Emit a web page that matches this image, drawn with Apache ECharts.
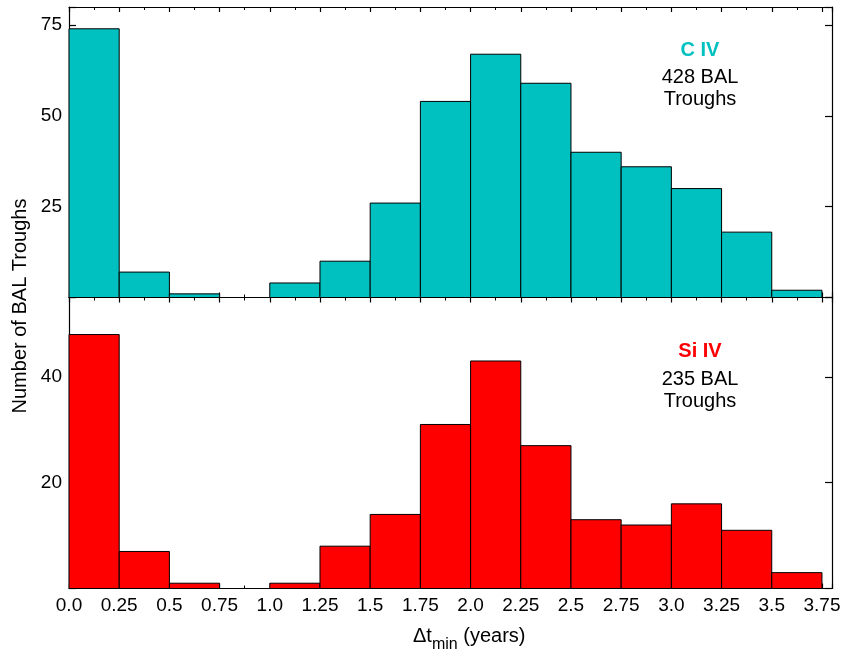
<!DOCTYPE html>
<html>
<head>
<meta charset="utf-8">
<script src="https://cdn.jsdelivr.net/npm/echarts@6/dist/echarts.min.js"></script>
<style>html,body{margin:0;padding:0;background:#fff}#c{width:846px;height:656px}</style>
</head>
<body>
<div id="c"></div>
<script>
// Bin left edges (years), bin width 0.25
const binStarts = [0, 0.25, 0.5, 0.75, 1.0, 1.25, 1.5, 1.75, 2.0, 2.25, 2.5, 2.75, 3.0, 3.25, 3.5];
const binWidth = 0.25;
// Counts per bin
const civCounts  = [74, 7, 1, 0, 4, 10, 26, 54, 67, 59, 40, 36, 30, 18, 2];
const siivCounts = [48, 7, 1, 0, 1, 8, 14, 31, 43, 27, 13, 12, 16, 11, 3];
// Tick labels
const xTickLabels = ['0.0','0.25','0.5','0.75','1.0','1.25','1.5','1.75','2.0','2.25','2.5','2.75','3.0','3.25','3.5','3.75'];
const topYTicks = [25, 50, 75];
const botYTicks = [20, 40];

const FONT = '"Liberation Sans", Arial, Helvetica, sans-serif';
const FS = 19;

function toData(counts) {
  return binStarts.map((s, i) => [s, s + binWidth, counts[i]]);
}
function renderBar(color) {
  return function (params, api) {
    const x0 = api.value(0), x1 = api.value(1), y = api.value(2);
    if (!y) return null;
    const p0 = api.coord([x0, 0]);
    const p1 = api.coord([x1, y]);
    return {
      type: 'rect',
      shape: { x: p0[0], y: p1[1], width: p1[0] - p0[0], height: p0[1] - p1[1] },
      style: { fill: color, stroke: '#000', lineWidth: 1 }
    };
  };
}
function xLabel(v) {
  const i = Math.round(v / 0.25);
  if (Math.abs(v - i * 0.25) > 1e-6 || i >= xTickLabels.length) return '';
  return xTickLabels[i];
}

const axisLine = { show: true, onZero: false, lineStyle: { color: '#000', width: 1.2 } };
function xAxisDef(grid, pos, showLabel) {
  return {
    type: 'value', gridIndex: grid, position: pos, min: 0, max: 3.8, interval: 0.25,
    axisLine: axisLine,
    axisTick: { show: true, inside: true, length: 5, lineStyle: { color: '#000', width: 1.2 } },
    minorTick: { show: true, splitNumber: 2, length: 3, lineStyle: { color: '#000', width: 1 } },
    splitLine: { show: false },
    axisLabel: { show: showLabel, formatter: xLabel, color: '#000', fontFamily: FONT, fontSize: FS, margin: 8 },
  };
}
function yAxisDef(grid, pos, max, interval, ticks, showLabel) {
  return {
    type: 'value', gridIndex: grid, position: pos, min: 0, max: max, interval: interval,
    axisLine: axisLine,
    axisTick: { show: true, inside: true, length: 7, lineStyle: { color: '#000', width: 1.2 } },
    splitLine: { show: false },
    axisLabel: {
      show: showLabel, color: '#000', fontFamily: FONT, fontSize: FS, margin: 7,
      formatter: v => ticks.indexOf(v) >= 0 ? String(v) : ''
    }
  };
}

const chart = echarts.init(document.getElementById('c'), null, { renderer: 'canvas' });
chart.setOption({
  animation: false,
  backgroundColor: '#fff',
  grid: [
    { left: 69, right: 14, top: 7, height: 290.5 },
    { left: 69, right: 14, top: 297.5, height: 291 }
  ],
  xAxis: [
    xAxisDef(0, 'bottom', false),
    xAxisDef(0, 'top', false),
    xAxisDef(1, 'bottom', true),
    xAxisDef(1, 'top', false)
  ],
  yAxis: [
    yAxisDef(0, 'left', 80, 25, topYTicks, true),
    yAxisDef(0, 'right', 80, 25, topYTicks, false),
    yAxisDef(1, 'left', 55, 20, botYTicks, true),
    yAxisDef(1, 'right', 55, 20, botYTicks, false)
  ],
  series: [
    {
      type: 'custom', xAxisIndex: 0, yAxisIndex: 0,
      renderItem: renderBar('#00C0C0'),
      encode: { x: [0, 1], y: 2 },
      data: toData(civCounts)
    },
    {
      type: 'custom', xAxisIndex: 2, yAxisIndex: 2,
      renderItem: renderBar('#FF0000'),
      encode: { x: [0, 1], y: 2 },
      data: toData(siivCounts)
    }
  ],
  graphic: [
    { type: 'text', x: 700, y: 50, style: { text: 'C IV', fill: '#00C0C0', font: 'bold 20px ' + FONT, align: 'center', verticalAlign: 'middle' } },
    { type: 'text', x: 700, y: 77, style: { text: '428 BAL', fill: '#000', font: '20px ' + FONT, align: 'center', verticalAlign: 'middle' } },
    { type: 'text', x: 700, y: 99, style: { text: 'Troughs', fill: '#000', font: '20px ' + FONT, align: 'center', verticalAlign: 'middle' } },
    { type: 'text', x: 700, y: 351, style: { text: 'Si IV', fill: '#FF0000', font: 'bold 20px ' + FONT, align: 'center', verticalAlign: 'middle' } },
    { type: 'text', x: 700, y: 379, style: { text: '235 BAL', fill: '#000', font: '20px ' + FONT, align: 'center', verticalAlign: 'middle' } },
    { type: 'text', x: 700, y: 401, style: { text: 'Troughs', fill: '#000', font: '20px ' + FONT, align: 'center', verticalAlign: 'middle' } },
    { type: 'text', x: 20, y: 306, rotation: Math.PI / 2,
      style: { text: 'Number of BAL Troughs', fill: '#000', font: '20px ' + FONT, align: 'center', verticalAlign: 'middle' } },
    { type: 'text', x: 413, y: 636,
      style: {
        text: '{a|Δt}{s|min}{a| (years)}',
        align: 'left', verticalAlign: 'middle',
        rich: {
          a: { fontFamily: FONT, fontSize: 20, fill: '#000', color: '#000' },
          s: { fontFamily: FONT, fontSize: 16, fill: '#000', color: '#000', padding: [18, 0, 0, 0] }
        }
      }
    }
  ]
});
</script>
</body>
</html>
